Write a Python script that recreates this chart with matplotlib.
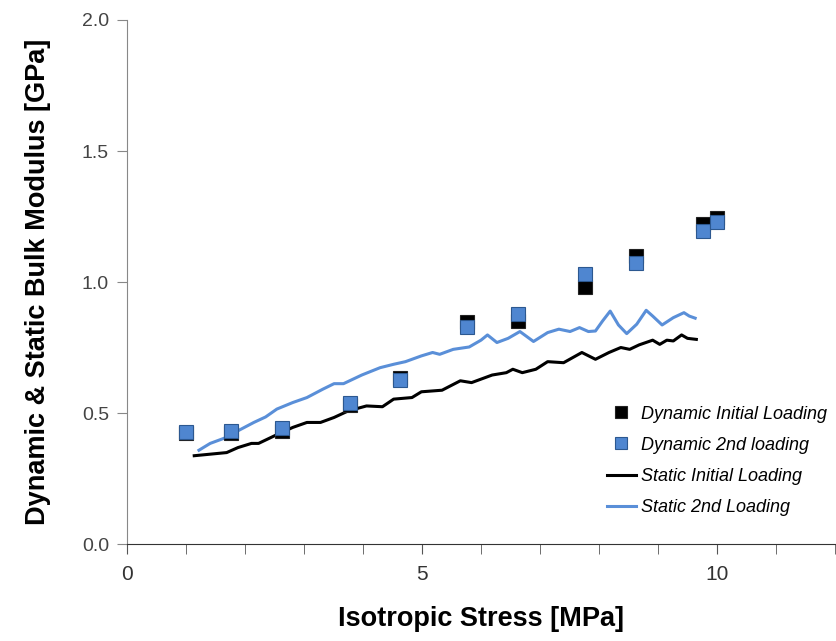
import matplotlib.pyplot as plt
from matplotlib.ticker import MultipleLocator

# Dynamic bulk modulus (ultrasonic), both loadings at the same stress steps
dyn_stress = [1.0, 1.77, 2.63, 3.78, 4.62, 5.77, 6.62, 7.77, 8.62, 9.77, 10.0]
dyn_initial = [0.425, 0.423, 0.432, 0.531, 0.635, 0.848, 0.851, 0.981, 1.098, 1.222, 1.245]
dyn_second = [0.426, 0.432, 0.442, 0.539, 0.626, 0.828, 0.879, 1.029, 1.072, 1.195, 1.228]

# Static bulk modulus from the stress-strain curves
st1_stress = [1.14, 1.69, 1.88, 2.11, 2.23, 2.50, 2.81, 3.05, 3.28, 3.51, 3.75,
              4.06, 4.33, 4.52, 4.83, 4.99, 5.34, 5.65, 5.84, 6.19, 6.43, 6.54,
              6.70, 6.93, 7.13, 7.40, 7.71, 7.94, 8.17, 8.37, 8.52, 8.68, 8.91,
              9.03, 9.15, 9.26, 9.40, 9.50, 9.65]
st1_mod = [0.337, 0.349, 0.368, 0.384, 0.384, 0.413, 0.445, 0.464, 0.464, 0.483, 0.508,
           0.527, 0.524, 0.553, 0.559, 0.581, 0.587, 0.623, 0.616, 0.645, 0.654, 0.667,
           0.654, 0.667, 0.696, 0.692, 0.731, 0.705, 0.731, 0.750, 0.743, 0.760, 0.778,
           0.762, 0.778, 0.775, 0.798, 0.785, 0.781]

st2_stress = [1.22, 1.41, 1.65, 1.88, 2.15, 2.35, 2.54, 2.81, 3.05, 3.32, 3.51,
              3.67, 3.98, 4.29, 4.52, 4.72, 4.99, 5.18, 5.30, 5.53, 5.80, 6.00,
              6.11, 6.27, 6.46, 6.66, 6.89, 7.13, 7.32, 7.51, 7.67, 7.82, 7.94,
              8.06, 8.19, 8.33, 8.47, 8.64, 8.80, 8.91, 9.07, 9.26, 9.44, 9.53, 9.63]
st2_mod = [0.358, 0.384, 0.404, 0.432, 0.464, 0.485, 0.515, 0.540, 0.559, 0.591, 0.612,
           0.612, 0.645, 0.673, 0.686, 0.696, 0.718, 0.731, 0.724, 0.743, 0.752, 0.778,
           0.798, 0.769, 0.785, 0.811, 0.773, 0.807, 0.820, 0.811, 0.826, 0.811, 0.813,
           0.851, 0.889, 0.836, 0.803, 0.839, 0.892, 0.870, 0.836, 0.864, 0.883, 0.870, 0.862]

font = ['Liberation Sans', 'DejaVu Sans']

fig = plt.figure(figsize=(8.37, 6.41), dpi=100)
ax = fig.add_axes([0.1517, 0.1513, 0.8459, 0.8175])

ax.plot(st1_stress, st1_mod, color='black', lw=2.2, label='Static Initial Loading', zorder=2)
ax.plot(st2_stress, st2_mod, color='#5a8fd8', lw=2.2, label='Static 2nd Loading', zorder=2)
ax.plot(dyn_stress, dyn_initial, 's', ms=10.5, mfc='black', mec='#222222', mew=0.8,
        ls='none', label='Dynamic Initial Loading', zorder=3)
ax.plot(dyn_stress, dyn_second, 's', ms=10.5, mfc='#4f86d0', mec='#2c5890', mew=0.8,
        ls='none', label='Dynamic 2nd loading', zorder=4)

ax.set_xlim(0, 12)
ax.set_ylim(0, 2.0)
ax.xaxis.set_major_locator(MultipleLocator(5))
ax.xaxis.set_minor_locator(MultipleLocator(1))
ax.yaxis.set_major_locator(MultipleLocator(0.5))
ax.yaxis.set_major_formatter(plt.FuncFormatter(lambda v, _: f'{v:.1f}'))

for s in ['top', 'right']:
    ax.spines[s].set_visible(False)
ax.spines['left'].set_color('#888888')
ax.spines['bottom'].set_color('#333333')
ax.tick_params(axis='x', which='both', direction='out', length=7, color='#555555',
               labelsize=15, labelcolor='#333333', pad=8)
ax.tick_params(axis='y', direction='out', length=7, color='#888888',
               labelsize=14, labelcolor='#444444', pad=6)
for lbl in ax.get_xticklabels() + ax.get_yticklabels():
    lbl.set_family(font)

ax.set_xlabel('Isotropic Stress [MPa]', fontsize=19.5, fontweight='bold',
              family=font, labelpad=16)
ax.set_ylabel('Dynamic & Static Bulk Modulus [GPa]', fontsize=19.5, fontweight='bold',
              family=font, labelpad=22)

handles, labels = ax.get_legend_handles_labels()
order = [2, 3, 0, 1]
ax.legend([handles[i] for i in order], [labels[i] for i in order],
          loc='upper left', bbox_to_anchor=(0.655, 0.295), frameon=False,
          prop={'family': font, 'style': 'italic', 'size': 13},
          handlelength=1.6, handletextpad=0.3, labelspacing=0.78, markerscale=0.8)

fig.savefig('out.png', dpi=100)
